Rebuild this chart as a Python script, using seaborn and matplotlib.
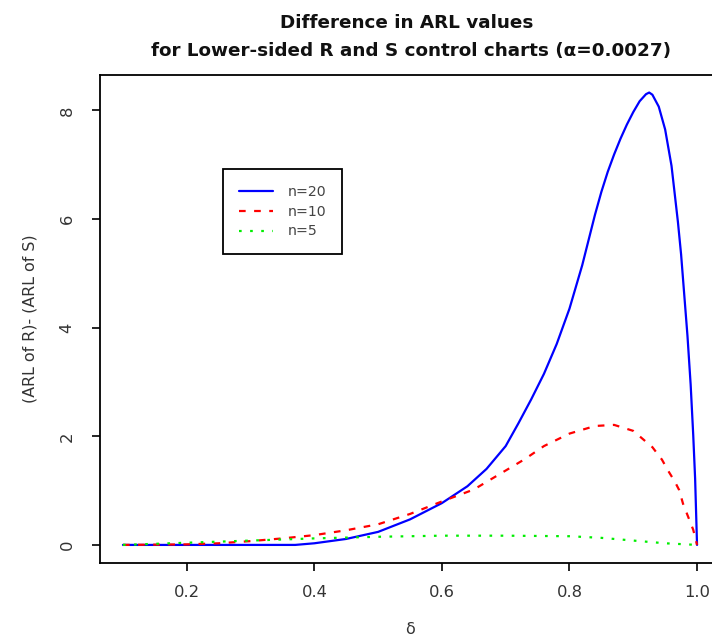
import matplotlib
matplotlib.use("Agg")
import matplotlib.pyplot as plt
import seaborn as sns
import pandas as pd

# ---- data ----
delta_n20 = [0.10, 0.20, 0.30, 0.37, 0.40, 0.45, 0.50, 0.55, 0.60, 0.64, 0.67, 0.70,
             0.72, 0.74, 0.76, 0.78, 0.80, 0.82, 0.84, 0.85, 0.86, 0.87, 0.88, 0.89,
             0.90, 0.91, 0.92, 0.925, 0.93, 0.94, 0.95, 0.96, 0.97, 0.975, 0.98,
             0.985, 0.99, 0.994, 0.997, 1.00]
arl_n20 = [0.00, 0.00, 0.00, 0.00, 0.03, 0.11, 0.24, 0.47, 0.77, 1.08, 1.40, 1.82,
           2.24, 2.68, 3.15, 3.70, 4.35, 5.15, 6.08, 6.50, 6.87, 7.19, 7.48, 7.74,
           7.97, 8.17, 8.30, 8.33, 8.29, 8.07, 7.65, 6.98, 5.95, 5.35, 4.60,
           3.85, 2.95, 2.03, 1.22, 0.00]

delta_n10 = [0.10, 0.20, 0.25, 0.30, 0.35, 0.40, 0.45, 0.50, 0.55, 0.60, 0.65, 0.69,
             0.73, 0.76, 0.80, 0.84, 0.87, 0.90, 0.93, 0.945, 0.955, 0.965, 0.972,
             0.978, 0.986, 0.994, 1.00]
arl_n10 = [0.00, 0.01, 0.03, 0.07, 0.12, 0.18, 0.27, 0.38, 0.57, 0.80, 1.02, 1.30,
           1.58, 1.82, 2.05, 2.19, 2.21, 2.10, 1.80, 1.57, 1.36, 1.17, 1.01,
           0.76, 0.52, 0.28, 0.00]

delta_n5 = [0.10, 0.15, 0.20, 0.30, 0.40, 0.50, 0.60, 0.70, 0.80, 0.85, 0.90, 0.95, 1.00]
arl_n5 = [0.00, 0.02, 0.04, 0.08, 0.12, 0.15, 0.17, 0.17, 0.16, 0.13, 0.08, 0.03, 0.00]

series_labels = ["n=20", "n=10", "n=5"]
x_ticks = [0.2, 0.4, 0.6, 0.8, 1.0]
y_ticks = [0, 2, 4, 6, 8]

title_line1 = "Difference in ARL values"
title_line2 = "for Lower-sided R and S control charts (\u03b1=0.0027)"
xlabel = "\u03b4"
ylabel = "(ARL of R)- (ARL of S)"

# ---- style ----
sns.set_style("white")
plt.rcParams["font.family"] = ["DejaVu Sans"]

fig = plt.figure(figsize=(7.12, 6.41), dpi=100)
ax = fig.add_axes([100 / 712, 1 - 563 / 641, 620 / 712, 488 / 641])

styles = [
    dict(color="#0000ff", dashes=None, lw=1.6),
    dict(color="#ff0000", dashes=(3.0, 3.8), lw=1.6),
    dict(color="#00ee00", dashes=(1.2, 3.8), lw=1.6),
]
data = [(delta_n20, arl_n20), (delta_n10, arl_n10), (delta_n5, arl_n5)]

for (xs, ys), lab, st in zip(data, series_labels, styles):
    df = pd.DataFrame({"delta": xs, "diff": ys})
    sns.lineplot(data=df, x="delta", y="diff", ax=ax, color=st["color"],
                 lw=st["lw"], label=lab, legend=False)
    if st["dashes"] is not None:
        ax.lines[-1].set_dashes(st["dashes"])

ax.set_xlim(0.064, 1.036)
ax.set_ylim(-0.333, 8.653)
ax.set_xticks(x_ticks)
ax.set_xticklabels([f"{t:.1f}" for t in x_ticks])
ax.set_yticks(y_ticks)
ax.set_yticklabels([str(t) for t in y_ticks], rotation=90, va="center")

for s in ["top", "right", "bottom", "left"]:
    ax.spines[s].set_visible(True)
    ax.spines[s].set_color("black")
    ax.spines[s].set_linewidth(1.3)

ax.tick_params(axis="both", direction="out", length=6, width=1.2, color="black",
               labelsize=11.8, labelcolor="#333333")
ax.tick_params(axis="x", pad=9.5)
ax.tick_params(axis="y", pad=12.2)
ax.tick_params(left=True, bottom=True)

ax.set_xlabel(xlabel, fontsize=11.5, color="#333333", labelpad=16.5)
ax.set_ylabel(ylabel, fontsize=11.4, color="#333333", labelpad=16)

fig.text(407 / 712, 1 - 21.5 / 641, title_line1, ha="center", va="center_baseline",
         fontsize=13.2, fontweight="bold", color="#111111")
fig.text(411 / 712, 1 - 48.5 / 641, title_line2, ha="center", va="center_baseline",
         fontsize=13.2, fontweight="bold", color="#111111")

leg = ax.legend(loc="upper left", bbox_to_anchor=((223 - 100) / 620, (563 - 169) / 488),
                frameon=True, fancybox=False, edgecolor="black", framealpha=1,
                fontsize=10.2, handlelength=2.4, handletextpad=1.1,
                borderpad=1.1, labelspacing=0.42, borderaxespad=0)
leg.get_frame().set_linewidth(1.3)
for t in leg.get_texts():
    t.set_color("#444444")

fig.savefig("out.png", dpi=100)
